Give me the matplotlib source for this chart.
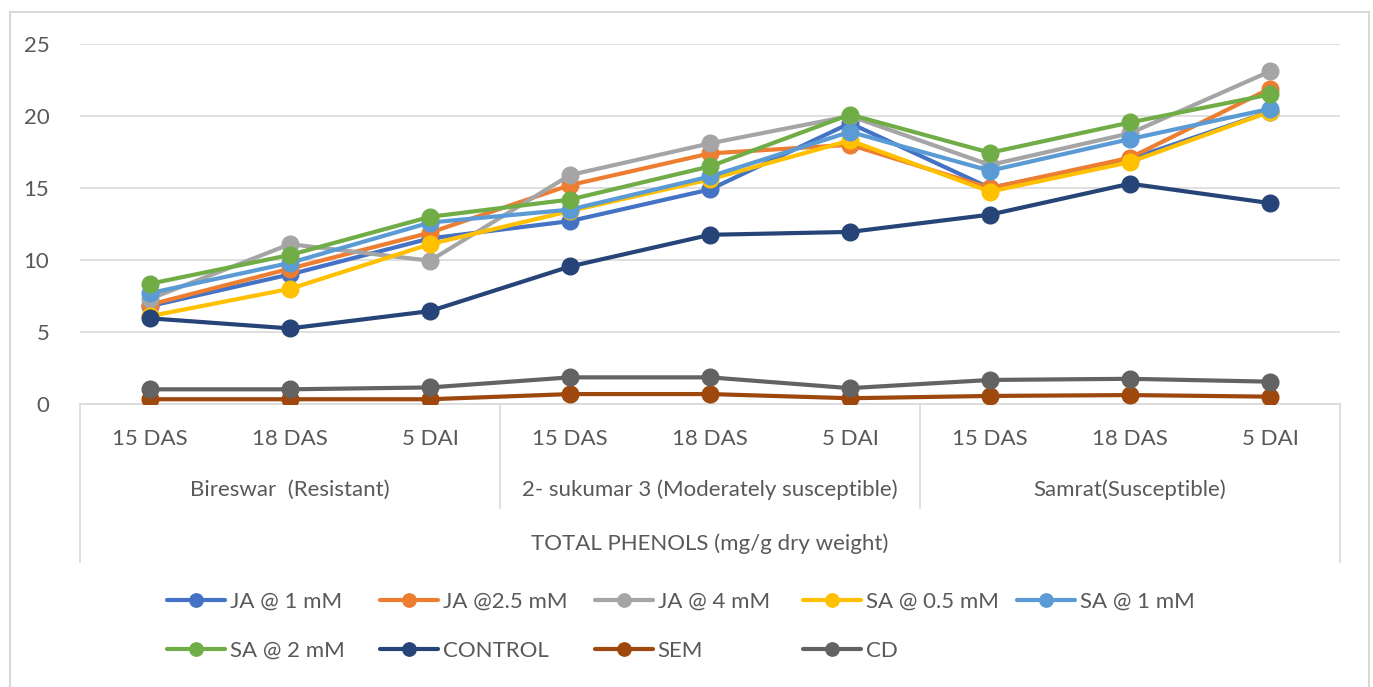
import matplotlib
matplotlib.use("Agg")
import matplotlib.pyplot as plt
from matplotlib.patches import Rectangle
from matplotlib.lines import Line2D
import matplotlib.transforms as mtransforms

plt.rcParams['font.family'] = ['Lato', 'DejaVu Sans']

# ---- data ----
timepoints = ["15 DAS", "18 DAS", "5 DAI"] * 3
groups = ["Bireswar  (Resistant)", "2- sukumar 3 (Moderately susceptible)", "Samrat(Susceptible)"]
axis_title = "TOTAL PHENOLS (mg/g dry weight)"

series_names = ["JA @ 1 mM", "JA @2.5 mM", "JA @ 4 mM", "SA @ 0.5 mM", "SA @ 1 mM",
                "SA @ 2 mM", "CONTROL", "SEM", "CD"]

ja_1 = [6.8, 9.0, 11.5, 12.7, 14.9, 19.5, 15.0, 17.0, 20.3]
ja_2_5 = [6.9, 9.4, 11.9, 15.2, 17.4, 18.0, 15.0, 17.1, 21.9]
ja_4 = [7.3, 11.1, 9.95, 15.9, 18.1, 20.0, 16.6, 18.8, 23.1]
sa_0_5 = [6.1, 8.0, 11.1, 13.4, 15.6, 18.3, 14.75, 16.8, 20.3]
sa_1 = [7.7, 9.8, 12.6, 13.5, 15.8, 18.9, 16.2, 18.4, 20.5]
sa_2 = [8.35, 10.35, 13.0, 14.2, 16.5, 20.1, 17.45, 19.55, 21.5]
control = [5.95, 5.25, 6.45, 9.55, 11.75, 11.95, 13.15, 15.3, 13.95]
sem = [0.33, 0.33, 0.33, 0.69, 0.69, 0.4, 0.56, 0.62, 0.51]
cd = [1.02, 1.02, 1.15, 1.85, 1.85, 1.1, 1.67, 1.75, 1.55]

colors = ["#4472C4", "#ED7D31", "#A5A5A5", "#FFC000", "#5B9BD5",
          "#70AD47", "#264478", "#9E480E", "#636363"]

all_series = [ja_1, ja_2_5, ja_4, sa_0_5, sa_1, sa_2, control, sem, cd]

W, H = 1373, 687
FS = 16
TXT = "#595959"
fig = plt.figure(figsize=(W / 100, H / 100), dpi=100)

def fx(x):
    return x / W

def fy(y):
    return 1 - y / H

# outer border
fig.patches.append(Rectangle((fx(10), fy(720)), fx(1369) - fx(10), fy(12) - fy(720),
                             transform=fig.transFigure, fill=False,
                             edgecolor="#d9d9d9", linewidth=1.5))

ax = fig.add_axes([fx(80), fy(404), fx(1340) - fx(80), fy(44) - fy(404)])
x = list(range(len(timepoints)))
lines = []
for vals, name, c in zip(all_series, series_names, colors):
    ln, = ax.plot(x, vals, color=c, linewidth=3.0, marker='o', markersize=12,
                  label=name, solid_capstyle='round', zorder=3)
    lines.append(ln)

ax.set_xlim(-0.5, len(timepoints) - 0.5)
ax.set_ylim(0, 25)
ax.set_yticks([0, 5, 10, 15, 20, 25])
ax.yaxis.grid(True, color="#d9d9d9", linewidth=1.2)
ax.set_axisbelow(True)
for s in ["top", "right", "left"]:
    ax.spines[s].set_visible(False)
ax.spines["bottom"].set_color("#d9d9d9")
ax.spines["bottom"].set_linewidth(1.2)
ax.tick_params(axis='y', length=0, pad=22, labelsize=FS, labelcolor=TXT)
ax.set_xticks(x)
ax.set_xticklabels(timepoints)
ax.tick_params(axis='x', length=0, pad=18, labelsize=FS, labelcolor=TXT)

# multi-level category axis
trans = mtransforms.blended_transform_factory(ax.transData, fig.transFigure)
for xb in [2.5, 5.5]:
    ax.add_line(Line2D([xb, xb], [fy(404), fy(508)], transform=trans, color="#d9d9d9",
                       linewidth=1.2, clip_on=False))
for xb in [-0.5, len(timepoints) - 0.5]:
    ax.add_line(Line2D([xb, xb], [fy(404), fy(562)], transform=trans, color="#d9d9d9",
                       linewidth=1.2, clip_on=False))
for i, g in enumerate(groups):
    ax.text(3 * i + 1, fy(490), g, transform=trans, ha='center', va='center',
            fontsize=FS, color=TXT)
ax.text((len(timepoints) - 1) / 2, fy(544), axis_title, transform=trans,
        ha='center', va='center', fontsize=FS, color=TXT)

# legend (two rows, fixed columns)
col_x = [167, 380, 595, 803, 1017]
row_y = [602, 651]
for i, ln in enumerate(lines):
    r, cidx = divmod(i, 5)
    fig.legend(handles=[ln], labels=[series_names[i]], loc='center left',
               bbox_to_anchor=(fx(col_x[cidx]), fy(row_y[r])), frameon=False,
               borderpad=0, borderaxespad=0, handlelength=2.6, handletextpad=0.22,
               fontsize=FS, labelcolor=TXT, markerscale=0.8)

fig.savefig("out.png", dpi=100)
